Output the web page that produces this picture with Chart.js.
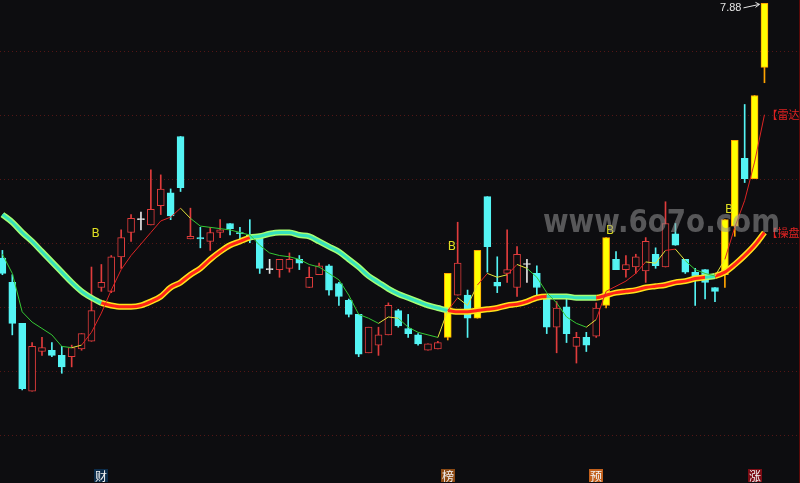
<!DOCTYPE html>
<html>
<head>
<meta charset="utf-8">
<script src="https://cdn.jsdelivr.net/npm/chart.js@4.4.1/dist/chart.umd.min.js"></script>
<style>
  html, body { margin: 0; padding: 0; background: #0d0d10; overflow: hidden; }
  #wrap { width: 800px; height: 483px; }
</style>
</head>
<body>
<div id="wrap"><canvas id="kChart" width="800" height="483"></canvas></div>
<script>
// daily candles, oldest first
const opens = [
  5.89, 5.70, 5.38, 4.85, 5.16, 5.17, 5.13, 5.12, 5.18, 5.24,
  5.66, 5.63, 5.90, 6.09, 6.19, 6.15, 6.30, 6.40, 6.84, 6.04,
  6.05, 6.02, 6.09, 6.16, 6.09, 6.07, 6.05, 5.80, 5.80, 5.81,
  5.88, 5.66, 5.76, 5.83, 5.69, 5.56, 5.45, 5.15, 5.21, 5.29,
  5.48, 5.34, 5.29, 5.17, 5.18, 5.27, 5.60, 5.60, 5.42, 6.37,
  5.70, 5.77, 5.66, 5.84, 5.77, 5.58, 5.35, 5.51, 5.20, 5.27,
  5.28, 5.52, 5.88, 5.80, 5.82, 5.79, 5.92, 5.82, 6.08, 5.88,
  5.78, 5.80, 5.66, 5.76, 6.14, 6.67, 6.51, 7.38
];
const highs = [
  5.95, 5.76, 5.38, 5.23, 5.27, 5.23, 5.20, 5.21, 5.30, 5.82,
  5.84, 5.91, 6.11, 6.23, 6.25, 6.58, 6.54, 6.43, 6.84, 6.28,
  6.13, 6.13, 6.19, 6.16, 6.13, 6.19, 6.05, 5.88, 5.88, 5.93,
  5.91, 5.82, 5.85, 5.84, 5.70, 5.57, 5.45, 5.35, 5.35, 5.54,
  5.49, 5.45, 5.30, 5.22, 5.24, 5.77, 6.17, 5.64, 5.95, 6.37,
  5.90, 6.11, 5.98, 5.88, 5.83, 5.58, 5.55, 5.59, 5.31, 5.31,
  5.54, 6.05, 5.94, 5.91, 5.92, 6.05, 5.97, 6.33, 6.16, 5.88,
  5.81, 5.80, 5.66, 6.19, 6.81, 7.09, 7.16, 7.88
];
const lows = [
  5.76, 5.29, 4.86, 4.85, 5.13, 5.12, 4.99, 5.04, 5.17, 5.24,
  5.63, 5.62, 5.81, 6.02, 6.11, 6.15, 6.23, 6.19, 6.41, 6.04,
  5.97, 5.95, 6.05, 6.07, 6.02, 6.01, 5.77, 5.77, 5.74, 5.78,
  5.80, 5.66, 5.76, 5.60, 5.52, 5.43, 5.12, 5.15, 5.13, 5.29,
  5.35, 5.27, 5.21, 5.17, 5.18, 5.25, 5.60, 5.27, 5.42, 5.78,
  5.62, 5.70, 5.59, 5.70, 5.60, 5.30, 5.15, 5.23, 5.07, 5.16,
  5.27, 5.50, 5.80, 5.74, 5.77, 5.70, 5.81, 5.82, 5.99, 5.77,
  5.52, 5.57, 5.55, 5.66, 6.06, 6.48, 6.51, 7.26
];
const closes = [
  5.77, 5.38, 4.87, 5.20, 5.19, 5.13, 5.04, 5.19, 5.30, 5.48,
  5.70, 5.90, 6.05, 6.20, 6.19, 6.27, 6.43, 6.22, 6.44, 6.06,
  6.04, 6.09, 6.11, 6.12, 6.08, 6.06, 5.81, 5.80, 5.88, 5.88,
  5.85, 5.74, 5.83, 5.64, 5.59, 5.45, 5.14, 5.35, 5.29, 5.52,
  5.36, 5.30, 5.22, 5.22, 5.23, 5.77, 5.85, 5.42, 5.95, 5.98,
  5.67, 5.80, 5.92, 5.84, 5.66, 5.35, 5.50, 5.30, 5.27, 5.21,
  5.50, 6.05, 5.80, 5.84, 5.90, 6.02, 5.83, 6.16, 5.99, 5.78,
  5.75, 5.70, 5.63, 6.19, 6.81, 6.51, 7.16, 7.88
];
// limit-up days drawn as yellow bars
const limitUp = [45, 48, 61, 73, 74, 76, 77];

// 雷达 (thin line) and 操盘 (thick line)
const radarLine = [
  5.92, 5.77, 5.47, 5.39, 5.34, 5.29, 5.20, 5.19, 5.21, 5.31,
  5.46, 5.64, 5.80, 5.91, 6.00, 6.09, 6.18, 6.21, 6.28, 6.20,
  6.14, 6.13, 6.12, 6.11, 6.09, 6.07, 5.99, 5.93, 5.91, 5.90,
  5.88, 5.84, 5.82, 5.77, 5.72, 5.60, 5.45, 5.42, 5.38, 5.43,
  5.42, 5.35, 5.31, 5.29, 5.27, 5.48, 5.58, 5.52, 5.68, 5.77,
  5.74, 5.76, 5.84, 5.81, 5.74, 5.62, 5.54, 5.43, 5.38, 5.35,
  5.41, 5.63, 5.67, 5.71, 5.77, 5.86, 5.85, 5.95, 5.96, 5.87,
  5.80, 5.77, 5.75, 5.88, 6.13, 6.34, 6.64, 7.01
];
const traderLine = [
  6.23, 6.17, 6.09, 6.02, 5.94, 5.86, 5.78, 5.70, 5.63, 5.58,
  5.54, 5.52, 5.51, 5.51, 5.52, 5.55, 5.59, 5.66, 5.70, 5.76,
  5.81, 5.88, 5.94, 5.99, 6.02, 6.05, 6.06, 6.08, 6.09, 6.09,
  6.07, 6.06, 6.02, 5.98, 5.94, 5.88, 5.82, 5.75, 5.70, 5.65,
  5.61, 5.58, 5.55, 5.52, 5.50, 5.48, 5.47, 5.47, 5.48, 5.49,
  5.50, 5.52, 5.53, 5.55, 5.58, 5.59, 5.59, 5.59, 5.58, 5.58,
  5.58, 5.60, 5.62, 5.63, 5.64, 5.66, 5.67, 5.68, 5.70, 5.71,
  5.73, 5.74, 5.75, 5.78, 5.84, 5.91, 5.99, 6.09
];

// buy marks
const buyIdx = [9, 45, 61, 73];
const buyPrice = [6.08, 5.98, 6.10, 6.27];

// markers on the bottom row
const tagText = ['财', '榜', '预', '涨'];
const tagIdx = [10, 45, 60, 76];
const tagColor = ['#0c2c4a', '#8c4a14', '#c2601c', '#7c0c14'];

const gridPrices = [4.5, 5.0, 5.5, 6.0, 6.5, 7.0, 7.5];

const BG = '#0d0d10';
const UP = '#e03c3c';
const DOWN = '#54f4f4';
const LIMIT = '#ffff00';
const LIMIT_EDGE = '#ffa400';
const DOJI = '#e6e6e6';

function kind(i) {
  if (limitUp.includes(i)) return 'limit';
  if (closes[i] > opens[i]) return 'up';
  if (closes[i] < opens[i]) return 'down';
  return 'doji';
}
const bodyFill = { limit: LIMIT, up: BG, down: DOWN, doji: DOJI };
const bodyEdge = { limit: LIMIT_EDGE, up: UP, down: DOWN, doji: DOJI };
const wickCol = { limit: LIMIT_EDGE, up: UP, down: DOWN, doji: DOJI };

const idx = opens.map((_, i) => i);
const kinds = idx.map(kind);

function slope(arr, i) {
  const d = arr[i] - arr[i - 1];
  return d > 0 ? 1 : (d < 0 ? -1 : 0);
}
function radarColor(ctx) {
  const i = ctx.p1DataIndex;
  const d = slope(radarLine, i);
  const prev = i > 1 ? slope(radarLine, i - 1) : d;
  if (d === 1 && prev === 1) return '#dc2424';
  if (d === -1 && prev === -1) return '#34c834';
  return '#e4e43a';
}
function traderAbove(ctx) {
  return radarLine[ctx.p1DataIndex] > traderLine[ctx.p1DataIndex];
}

const overlay = {
  id: 'overlay',
  beforeDraw(chart) {
    const ctx = chart.ctx;
    ctx.save();
    ctx.fillStyle = BG;
    ctx.fillRect(0, 0, chart.width, chart.height);
    ctx.restore();
  },
  afterDatasetsDraw(chart) {
    const { ctx, chartArea } = chart;
    const x = chart.scales.x, y = chart.scales.y;
    const last = opens.length - 1;
    ctx.save();

    // B marks
    ctx.font = '12px "DejaVu Sans"';
    ctx.fillStyle = '#dede22';
    ctx.textAlign = 'left';
    ctx.textBaseline = 'middle';
    buyIdx.forEach((i, k) => ctx.fillText('B', x.getPixelForValue(i), y.getPixelForValue(buyPrice[k])));

    // line names at the right end
    ctx.font = '11px "Noto Sans CJK SC"';
    ctx.fillStyle = '#e02222';
    const lx = x.getPixelForValue(last) + 2;
    ctx.fillText('【雷达', lx, y.getPixelForValue(radarLine[last]));
    ctx.fillText('【操盘', lx, y.getPixelForValue(traderLine[last]));

    // highest price
    const top = Math.max(...highs);
    const ti = highs.indexOf(top);
    const hx = x.getPixelForValue(ti), hy = y.getPixelForValue(top);
    ctx.font = '11px "Liberation Sans"';
    ctx.fillStyle = '#e4e4e4';
    ctx.textAlign = 'right';
    ctx.fillText(top.toFixed(2), hx - 23, hy + 5);
    ctx.strokeStyle = '#e4e4e4';
    ctx.lineWidth = 1;
    ctx.beginPath();
    ctx.moveTo(hx - 21, hy + 4.5);
    ctx.lineTo(hx - 5, hy + 1);
    ctx.moveTo(hx - 9, hy - 1);
    ctx.lineTo(hx - 5, hy + 1);
    ctx.lineTo(hx - 9, hy + 4);
    ctx.stroke();

    // bottom row tags
    ctx.font = '12px "Noto Sans CJK SC"';
    ctx.textAlign = 'center';
    tagText.forEach((t, k) => {
      const cx = Math.round(x.getPixelForValue(tagIdx[k]));
      const by = chartArea.bottom - 14;
      ctx.fillStyle = tagColor[k];
      ctx.fillRect(cx - 7, by, 14, 13);
      ctx.fillStyle = '#f2f2f2';
      ctx.fillText(t, cx, by + 7);
    });

    // watermark
    ctx.font = 'bold 32px "DejaVu Sans"';
    const wm = 'www.6o7o.com';
    const w = ctx.measureText(wm).width;
    ctx.translate(543, 232);
    ctx.scale(237 / w, 1);
    ctx.textAlign = 'left';
    ctx.textBaseline = 'alphabetic';
    ctx.fillStyle = 'rgba(150,150,150,0.55)';
    ctx.fillText(wm, 0, 0);
    ctx.setTransform(1, 0, 0, 1, 0, 0);

    // right edge
    ctx.strokeStyle = '#5c0808';
    ctx.beginPath();
    ctx.moveTo(chartArea.right - 0.5, chartArea.top);
    ctx.lineTo(chartArea.right - 0.5, chartArea.bottom);
    ctx.stroke();
    ctx.restore();
  }
};

new Chart(document.getElementById('kChart'), {
  type: 'bar',
  data: {
    datasets: [
      {
        type: 'line',
        label: '雷达',
        data: idx.map(i => ({ x: i, y: radarLine[i] })),
        borderWidth: 1,
        pointRadius: 0,
        segment: { borderColor: radarColor },
        order: 0
      },
      {
        type: 'line',
        label: '操盘',
        data: idx.map(i => ({ x: i, y: traderLine[i] })),
        borderWidth: 3,
        pointRadius: 0,
        cubicInterpolationMode: 'monotone',
        segment: { borderColor: ctx => traderAbove(ctx) ? '#ff2418' : '#36e2bc' },
        order: 1
      },
      {
        type: 'line',
        label: '操盘边',
        data: idx.map(i => ({ x: i, y: traderLine[i] })),
        borderWidth: 6,
        pointRadius: 0,
        cubicInterpolationMode: 'monotone',
        segment: { borderColor: ctx => traderAbove(ctx) ? '#ffe21a' : '#a6ff74' },
        order: 2
      },
      {
        label: 'body',
        data: idx.map(i => ({ x: i, y: [opens[i], closes[i]] })),
        backgroundColor: kinds.map(k => bodyFill[k]),
        borderColor: kinds.map(k => bodyEdge[k]),
        borderWidth: 1,
        borderSkipped: false,
        barThickness: 7,
        minBarLength: 1,
        grouped: false,
        order: 3
      },
      {
        label: 'wick',
        data: idx.map(i => ({ x: i, y: [lows[i], highs[i]] })),
        backgroundColor: kinds.map(k => wickCol[k]),
        borderWidth: 0,
        barThickness: 1,
        grouped: false,
        order: 4
      }
    ]
  },
  options: {
    responsive: false,
    animation: false,
    devicePixelRatio: 1,
    layout: { padding: 0 },
    plugins: { legend: { display: false }, tooltip: { enabled: false } },
    scales: {
      x: {
        type: 'linear',
        offset: false,
        min: -0.2425,
        max: 80.59,
        display: false
      },
      y: {
        type: 'linear',
        min: 4.1328,
        max: 7.90625,
        afterFit: s => { s.width = 0; },
        afterBuildTicks: s => { s.ticks = gridPrices.map(v => ({ value: v })); },
        ticks: { display: false },
        grid: { color: '#541616', lineWidth: 1, drawTicks: false },
        border: { display: false, dash: [1, 3] }
      }
    }
  },
  plugins: [overlay]
});
</script>
</body>
</html>
